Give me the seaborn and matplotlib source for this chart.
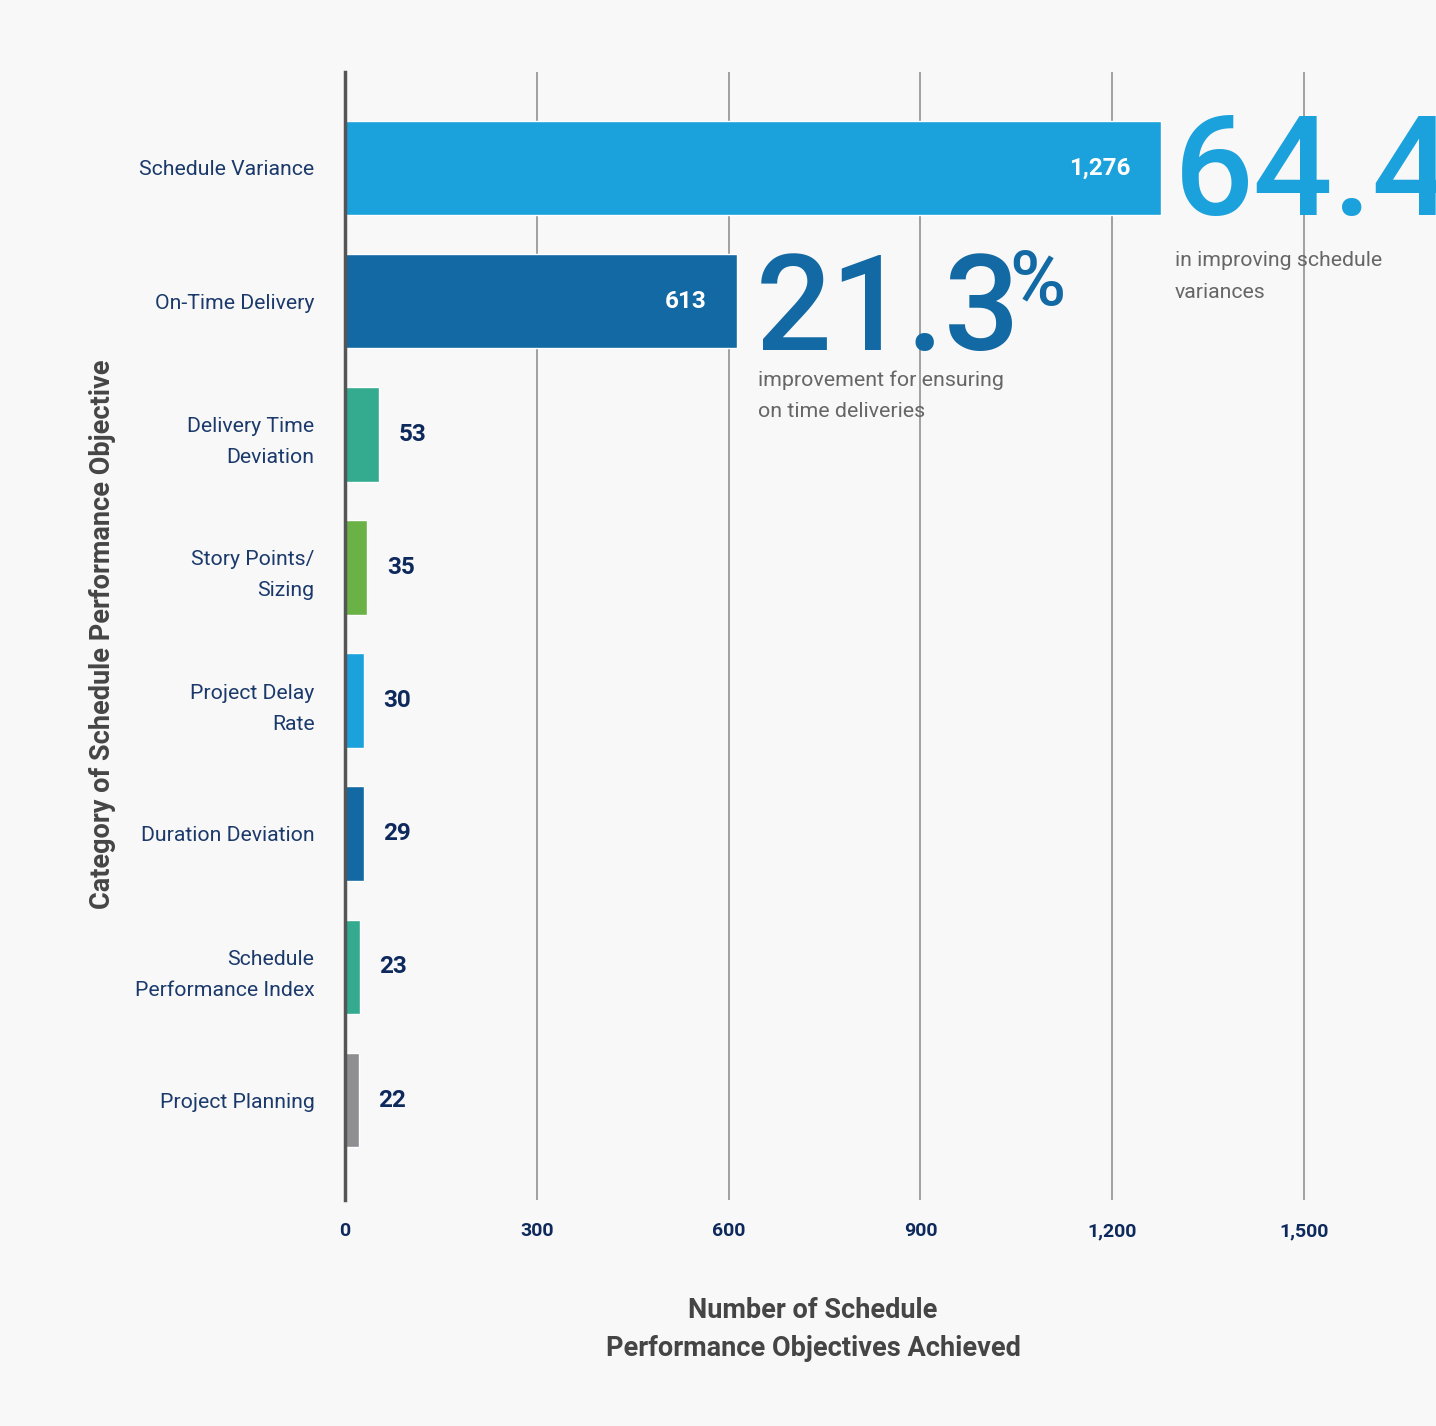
import matplotlib
matplotlib.use("Agg")
import matplotlib.pyplot as plt
import seaborn as sns
import pandas as pd

# Chart data
categories = [
    "Schedule Variance",
    "On-Time Delivery",
    "Delivery Time\nDeviation",
    "Story Points/\nSizing",
    "Project Delay\nRate",
    "Duration Deviation",
    "Schedule\nPerformance Index",
    "Project Planning",
]
values = [1276, 613, 53, 35, 30, 29, 23, 22]
bar_colors = ["#1BA1DB", "#1269A3", "#34AA8F", "#6AB245",
              "#1BA1DB", "#1269A3", "#34AA8F", "#8E8E93"]
x_ticks = [0, 300, 600, 900, 1200, 1500]
x_tick_labels = ["0", "300", "600", "900", "1,200", "1,500"]

df = pd.DataFrame({"category": categories, "value": values})

W, H = 1436, 1426
DPI = 100
sns.set_theme(style="white")
plt.rcParams["font.family"] = ["Roboto", "DejaVu Sans"]

BG = "#F8F8F8"
NAVY = "#1B3A6B"
DARK_NAVY = "#0E2A5C"
GRAY_TEXT = "#666666"
TITLE_GRAY = "#454545"

fig = plt.figure(figsize=(W / DPI, H / DPI), dpi=DPI, facecolor=BG)
ax_left, ax_top, ax_bottom = 345, 72, 1200
ax = fig.add_axes([ax_left / W, 1 - ax_bottom / H, (W - ax_left) / W, (ax_bottom - ax_top) / H])
ax.set_facecolor(BG)

sns.barplot(data=df, y="category", x="value", hue="category", palette=bar_colors,
            orient="h", width=0.71, legend=False, ax=ax, saturation=1, zorder=3)

px_per_unit = (1304 - 345) / 1500
ax.set_xlim(0, (W - ax_left) / px_per_unit)
ax.set_ylim(7.75, -0.72)

# Vertical gridlines
for t in x_ticks[1:]:
    ax.axvline(t, color="#999999", lw=1.3, zorder=1)

for s in ["top", "right", "bottom"]:
    ax.spines[s].set_visible(False)
ax.spines["left"].set_color("#555555")
ax.spines["left"].set_linewidth(2.5)
ax.spines["left"].set_zorder(4)

ax.set_xticks(x_ticks)
ax.set_xticklabels(x_tick_labels, fontsize=14, fontweight="bold", color=DARK_NAVY)
ax.tick_params(axis="x", length=0, pad=16)
ax.tick_params(axis="y", length=0, pad=22)
for lbl in ax.get_yticklabels():
    lbl.set_fontsize(15.3)
    lbl.set_color(NAVY)
    lbl.set_linespacing(1.8)
    lbl.set_horizontalalignment("right")
ax.set_xlabel("")
ax.set_ylabel("")

# Value labels
for i, v in enumerate(values):
    if v > 300:
        ax.annotate(f"{v:,}", xy=(v, i), xytext=(-22, 0), textcoords="offset points",
                    ha="right", va="center", fontsize=17.5, fontweight="bold",
                    color="white", zorder=5)
    else:
        ax.annotate(f"{v:,}", xy=(v, i), xytext=(14, 0), textcoords="offset points",
                    ha="left", va="center", fontsize=17.5, fontweight="bold",
                    color=DARK_NAVY, zorder=5)

def fx(px):
    return px / W

def fy(py):
    return 1 - py / H

# Callouts
fig.text(fx(1174), fy(215), "64.4", fontsize=101, fontweight="medium", color="#1BA1DB",
         ha="left", va="baseline")
fig.text(fx(1175), fy(260), "in improving schedule", fontsize=15.3, color=GRAY_TEXT,
         ha="left", va="center")
fig.text(fx(1175), fy(292), "variances", fontsize=15.3, color=GRAY_TEXT, ha="left", va="center")

fig.text(fx(756), fy(350), "21.3", fontsize=96, fontweight="medium", color="#1269A3",
         ha="left", va="baseline")
fig.text(fx(1009), fy(305), "%", fontsize=55, fontweight="medium", color="#1269A3",
         ha="left", va="baseline")
fig.text(fx(758), fy(380), "improvement for ensuring", fontsize=15.4, color=GRAY_TEXT,
         ha="left", va="center")
fig.text(fx(758), fy(412), "on time deliveries", fontsize=15.4, color=GRAY_TEXT,
         ha="left", va="center")

# Axis titles
fig.text(fx(813), fy(1311), "Number of Schedule", fontsize=19.5, fontweight="bold",
         color=TITLE_GRAY, ha="center", va="center")
fig.text(fx(813), fy(1348), "Performance Objectives Achieved", fontsize=19.5, fontweight="bold",
         color=TITLE_GRAY, ha="center", va="center")
fig.text(fx(103), fy(634), "Category of Schedule Performance Objective", fontsize=19.5,
         fontweight="bold", color=TITLE_GRAY, ha="center", va="center", rotation=90)

fig.savefig("out.png", dpi=DPI, facecolor=BG)
